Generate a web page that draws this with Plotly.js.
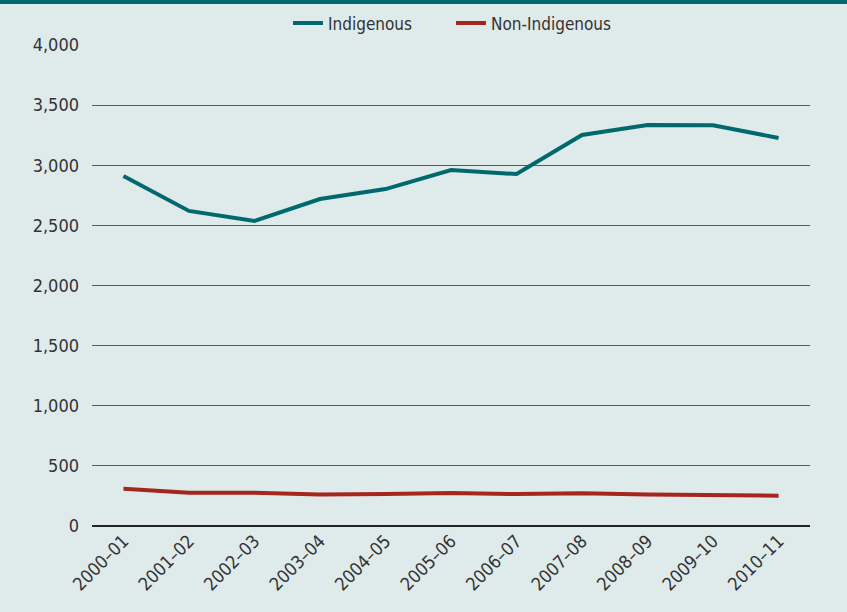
<!DOCTYPE html>
<html>
<head>
<meta charset="utf-8">
<script src="https://cdn.plot.ly/plotly-3.0.1.min.js"></script>
<style>html,body{margin:0;padding:0;background:#dfeaeb;}#chart{width:847px;height:612px;}</style>
</head>
<body>
<div id="chart"></div>
<script>
const years = ['2000–01','2001–02','2002–03','2003–04','2004–05','2005–06','2006–07','2007–08','2008–09','2009–10','2010–11'];
const indigenous = [2910, 2620, 2536, 2719, 2802, 2960, 2927, 3252, 3335, 3333, 3227];
const nonIndigenous = [310, 277, 277, 262, 266, 274, 266, 272, 262, 260, 252];
const yTicks = [0, 500, 1000, 1500, 2000, 2500, 3000, 3500, 4000];
const yTickText = ['0','500','1,000','1,500','2,000','2,500','3,000','3,500','4,000'];

const font = "'DejaVu Sans Condensed', 'Liberation Sans Narrow', sans-serif";

const traces = [
  {x: years, y: indigenous, name: 'Indigenous', type: 'scatter', mode: 'lines',
   line: {color: '#00696e', width: 4}},
  {x: years, y: nonIndigenous, name: 'Non-Indigenous', type: 'scatter', mode: 'lines',
   line: {color: '#a6261d', width: 4}}
];

const layout = {
  width: 847, height: 612,
  paper_bgcolor: '#dfeaeb', plot_bgcolor: '#dfeaeb',
  margin: {l: 92, r: 37, t: 45, b: 86, autoexpand: false},
  font: {family: font, size: 17, color: '#333333'},
  showlegend: true,
  legend: {orientation: 'h', x: 0.5, xanchor: 'center', y: 1.045, yanchor: 'middle',
           font: {family: font, size: 17, color: '#333333'}, bgcolor: 'rgba(0,0,0,0)',
           entrywidth: 118, tracegroupgap: 0},
  xaxis: {type: 'category', range: [-0.48, 10.48], tickangle: -45, showgrid: false,
          zeroline: false, showline: false, ticks: '', tickfont: {family: font, size: 18, color: '#333'}},
  yaxis: {range: [0, 4000], tickvals: yTicks, ticktext: yTickText, showgrid: true,
          gridcolor: '#5a5a5a', gridwidth: 1.2, zeroline: true, zerolinecolor: '#222222', zerolinewidth: 2.5,
          showline: false, ticks: '', ticklabelstandoff: 12, tickfont: {family: font, size: 18, color: '#333'}},
  shapes: [
    {type: 'rect', xref: 'paper', yref: 'paper', x0: -0.2, x1: 1.1, y0: 1.0852, y1: 1.1, fillcolor: '#006a6e', line: {width: 0}}
  ]
};

Plotly.newPlot('chart', traces, layout, {displayModeBar: false, staticPlot: true});
</script>
</body>
</html>
